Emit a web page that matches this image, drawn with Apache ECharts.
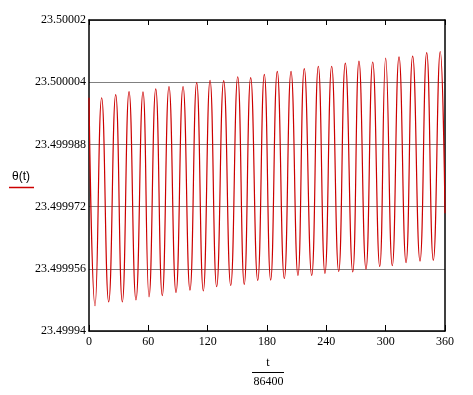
<!DOCTYPE html>
<html>
<head>
<meta charset="utf-8">
<script src="https://cdn.jsdelivr.net/npm/echarts@6/dist/echarts.min.js"></script>
<style>html,body{margin:0;padding:0;background:#fff;}#c{width:473px;height:395px;}</style>
</head>
<body>
<div id="c"></div>
<script>
// Values (t in days = t/86400, θ in degrees)
var startT = 0, startV = 23.5000000;
var endT = 360, endV = 23.4999703;
var peakT = [12.8, 27.0, 40.5, 54.6, 67.5, 80.9, 95.1, 108.9, 122.4, 136.2, 150.4, 163.5, 177.3, 190.4, 204.3, 217.7, 231.9, 245.4, 259.2, 273.0, 286.9, 300.0, 313.5, 327.3, 341.5, 355.2];
var peakV = [23.5000000, 23.5000008, 23.5000016, 23.5000015, 23.5000023, 23.5000029, 23.5000029, 23.5000039, 23.5000045, 23.5000044, 23.5000054, 23.5000052, 23.5000060, 23.5000068, 23.5000068, 23.5000075, 23.5000081, 23.5000081, 23.5000089, 23.5000094, 23.5000092, 23.5000102, 23.5000105, 23.5000107, 23.5000116, 23.5000119];
var troughT = [6.1, 19.9, 33.7, 47.5, 60.7, 74.1, 88.0, 102.1, 115.6, 129.1, 143.3, 157.0, 170.6, 183.7, 197.5, 211.3, 225.2, 238.6, 252.5, 266.7, 280.1, 294.0, 306.7, 320.6, 334.7, 348.2];
var troughV = [23.4999465, 23.4999475, 23.4999475, 23.4999480, 23.4999488, 23.4999491, 23.4999499, 23.4999505, 23.4999503, 23.4999514, 23.4999517, 23.4999520, 23.4999530, 23.4999531, 23.4999535, 23.4999543, 23.4999543, 23.4999548, 23.4999553, 23.4999552, 23.4999559, 23.4999566, 23.4999568, 23.4999576, 23.4999580, 23.4999582];
var xTicks = [0, 60, 120, 180, 240, 300, 360];
var yTickLabels = ['23.49994', '23.499956', '23.499972', '23.499988', '23.500004', '23.50002'];
var yMin = 23.49994, yMax = 23.50002, yStep = 0.000016;

var pts = [[startT, startV]];
for (var i = 0; i < peakT.length; i++) pts.push([peakT[i], peakV[i]]);
for (var j = 0; j < troughT.length; j++) pts.push([troughT[j], troughV[j]]);
pts.push([endT, endV]);
pts.sort(function (a, b) { return a[0] - b[0]; });

var serif = '"Liberation Serif", "Times New Roman", serif';
var chart = echarts.init(document.getElementById('c'), null, {renderer: 'canvas'});
chart.setOption({
  animation: false,
  backgroundColor: '#ffffff',
  grid: {left: 89, right: 28, top: 20, bottom: 64, containLabel: false},
  xAxis: [{
    type: 'value', min: xTicks[0], max: xTicks[xTicks.length - 1], interval: 60, position: 'bottom',
    axisLine: {show: true, onZero: false, lineStyle: {color: '#000', width: 1.5}},
    axisTick: {show: true, inside: true, length: 6, lineStyle: {color: '#000', width: 1}},
    axisLabel: {color: '#000', fontFamily: serif, fontSize: 12, margin: 5},
    splitLine: {show: false}
  }, {
    type: 'value', min: xTicks[0], max: xTicks[xTicks.length - 1], interval: 60, position: 'top',
    axisLine: {show: true, onZero: false, lineStyle: {color: '#000', width: 1.5}},
    axisTick: {show: true, inside: true, length: 5, lineStyle: {color: '#000', width: 1}},
    axisLabel: {show: false},
    splitLine: {show: false}
  }],
  yAxis: [{
    type: 'value', min: yMin, max: yMax, interval: yStep, position: 'left',
    axisLine: {show: true, onZero: false, lineStyle: {color: '#000', width: 1.5}},
    axisTick: {show: false},
    axisLabel: {
      color: '#000', fontFamily: serif, fontSize: 12, margin: 3,
      formatter: function (v) {
        var k = Math.round((v - yMin) / yStep);
        return yTickLabels[k] !== undefined ? yTickLabels[k] : '';
      }
    },
    splitLine: {show: true, lineStyle: {color: '#808080', width: 1}}
  }, {
    type: 'value', min: yMin, max: yMax, interval: yStep, position: 'right',
    axisLine: {show: true, onZero: false, lineStyle: {color: '#000', width: 1.5}},
    axisTick: {show: false}, axisLabel: {show: false}, splitLine: {show: false}
  }],
  graphic: [
    {type: 'text', left: 12, top: 171, style: {text: 'θ(t)', font: '12px "Liberation Sans", Arial, sans-serif', fill: '#000'}},
    {type: 'line', shape: {x1: 9, y1: 187.5, x2: 34, y2: 187.5}, style: {stroke: '#cc0000', lineWidth: 1.5}},
    {type: 'text', x: 268, y: 363, style: {text: 't', font: '12px ' + serif, fill: '#000', textAlign: 'center', textVerticalAlign: 'middle'}},
    {type: 'line', shape: {x1: 252, y1: 372.5, x2: 284, y2: 372.5}, style: {stroke: '#000', lineWidth: 1}},
    {type: 'text', x: 268.5, y: 382, style: {text: '86400', font: '12px ' + serif, fill: '#000', textAlign: 'center', textVerticalAlign: 'middle'}}
  ],
  series: [{
    type: 'line', xAxisIndex: 0, yAxisIndex: 0,
    data: pts, showSymbol: false, smooth: 0.5,
    lineStyle: {color: '#cc0000', width: 1.2},
    clip: true
  }]
});
</script>
</body>
</html>
